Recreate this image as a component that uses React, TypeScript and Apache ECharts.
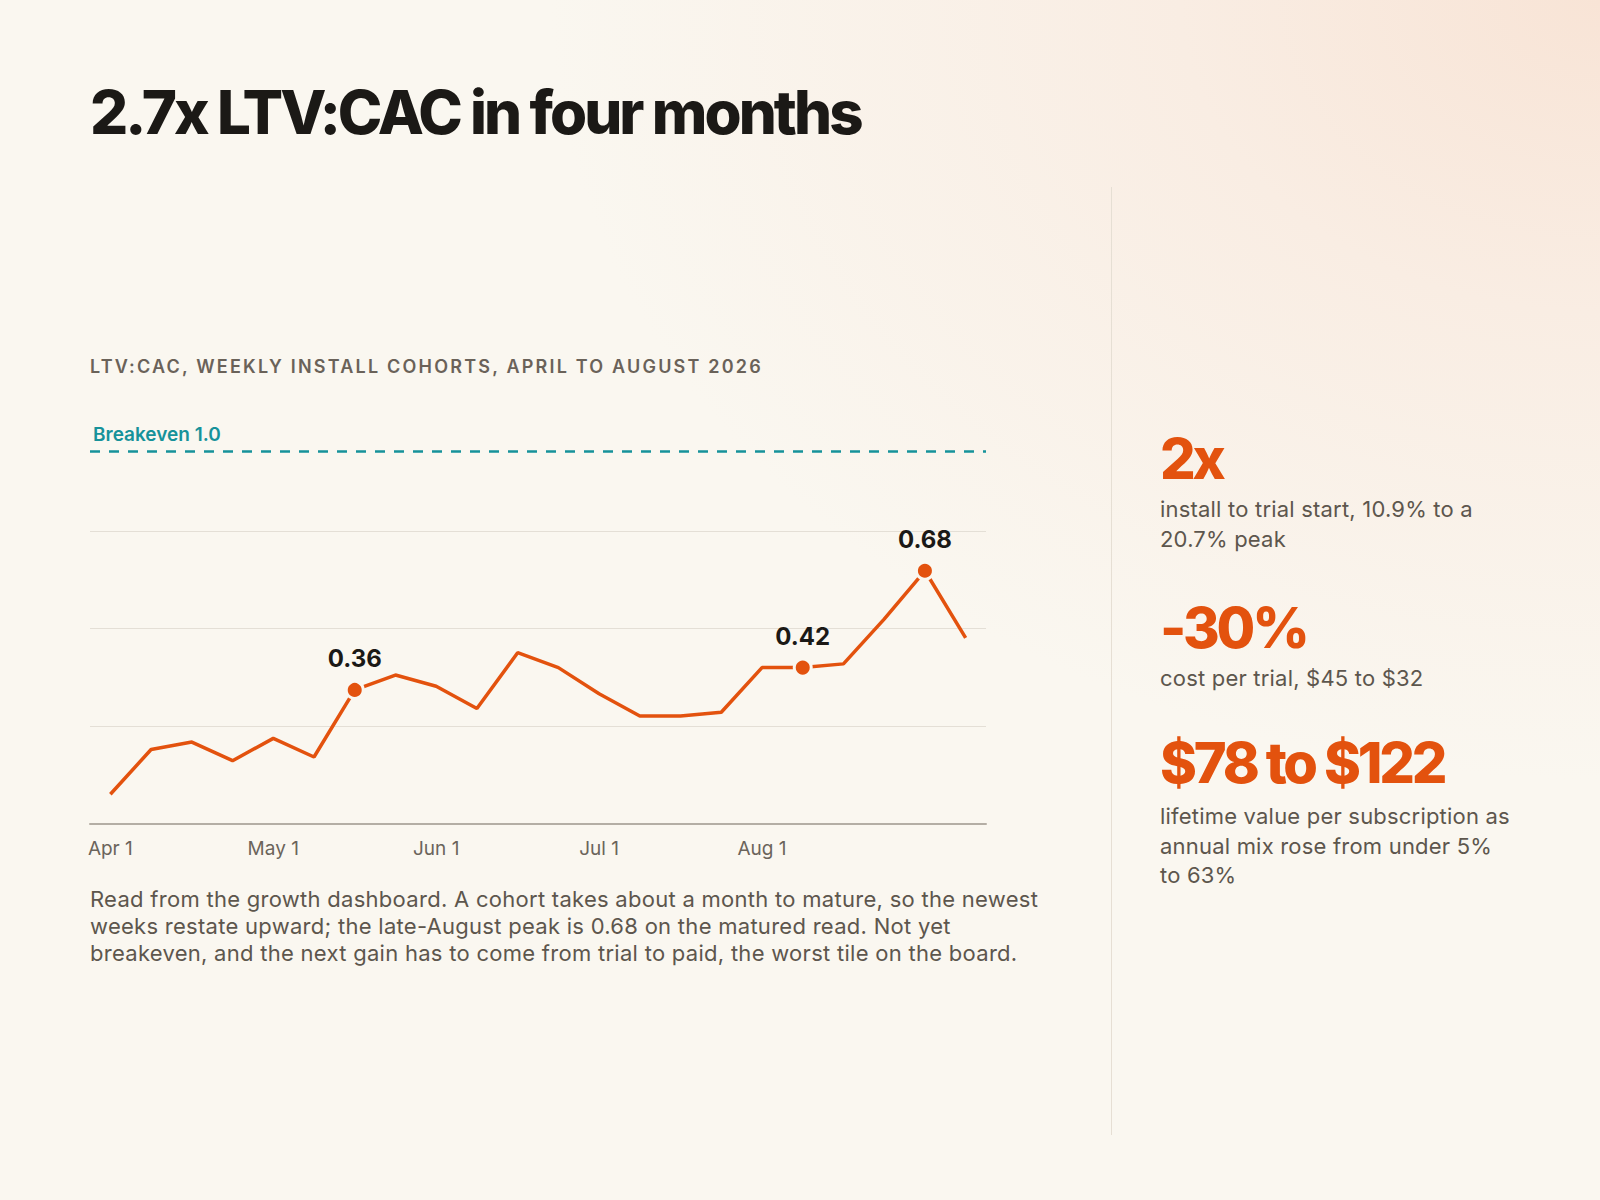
import { useEffect, useRef } from 'react';
import * as echarts from 'echarts';

// Weekly install cohorts; only the month starts get a tick label
const weeks = [
  'Apr 1', 'Apr 8', 'Apr 15', 'Apr 22',
  'May 1', 'May 8', 'May 15', 'May 22',
  'Jun 1', 'Jun 8', 'Jun 15', 'Jun 22',
  'Jul 1', 'Jul 8', 'Jul 15', 'Jul 22',
  'Aug 1', 'Aug 8', 'Aug 15', 'Aug 22', 'Aug 29', 'Sep 5',
];

const ltvCac = [
  0.08, 0.2, 0.22, 0.17, 0.23, 0.18, 0.36, 0.4, 0.37, 0.31, 0.46,
  0.42, 0.35, 0.29, 0.29, 0.3, 0.42, 0.42, 0.43, 0.55, 0.68, 0.5,
];

// weeks that get a dot and a value label
const callouts = [6, 17, 20];

const breakeven = 1.0;

const stats = ['2x', '-30%', '$78 to $122'];
const statNotes = [
  ['install to trial start, 10.9% to a', '20.7% peak'],
  ['cost per trial, $45 to $32'],
  ['lifetime value per subscription as', 'annual mix rose from under 5%', 'to 63%'],
];

const noteLines = [
  'Read from the growth dashboard. A cohort takes about a month to mature, so the newest',
  'weeks restate upward; the late-August peak is 0.68 on the matured read. Not yet',
  'breakeven, and the next gain has to come from trial to paid, the worst tile on the board.',
];

const FONT = "Inter, 'Noto Sans', sans-serif";
const ORANGE = '#e3520e';
const TEAL = '#16929a';
const INK = '#1b1916';
const MUTED = '#5d564d';
const BG = '#faf7f0';

function LtvCacChart() {
  const chartRef = useRef<HTMLDivElement>(null);

  useEffect(() => {
    if (!chartRef.current) return;
    const chart = echarts.init(chartRef.current, undefined, { renderer: 'svg' });

    chart.setOption({
      animation: false,
      backgroundColor: 'transparent',
      textStyle: { fontFamily: FONT },
      // leave a little room on the left so "Apr 1" is not clipped
      grid: { left: 12, right: 4, top: 33, bottom: 46, outerBoundsMode: 'none' },
      xAxis: {
        type: 'category',
        data: weeks,
        boundaryGap: true,
        axisLine: { lineStyle: { color: '#b4aea5', width: 2 } },
        axisTick: { show: false },
        axisLabel: {
          interval: (_: number, v: string) => v.endsWith(' 1'),
          color: '#6b645b',
          fontSize: 19,
          margin: 15,
        },
        splitLine: { show: false },
      },
      yAxis: {
        type: 'value',
        min: 0,
        max: 1.05,
        interval: 0.2625,
        axisLine: { show: false },
        axisTick: { show: false },
        axisLabel: { show: false },
        splitLine: {
          show: true,
          showMaxLine: false,
          lineStyle: { color: '#e4dfd6', width: 1 },
        },
      },
      series: [
        {
          type: 'line',
          data: ltvCac.map((v, i) =>
            callouts.includes(i)
              ? { value: v, symbolSize: 17, label: { show: true } }
              : v
          ),
          symbol: 'circle',
          symbolSize: 0,
          showSymbol: true,
          showAllSymbol: true,
          lineStyle: { color: ORANGE, width: 3.5 },
          itemStyle: { color: ORANGE, borderColor: BG, borderWidth: 3 },
          label: {
            show: false,
            position: 'top',
            distance: 9,
            fontSize: 24,
            fontWeight: 700,
            color: INK,
            formatter: (p: any) => Number(p.value).toFixed(2),
          },
          emphasis: { disabled: true },
          markLine: {
            silent: true,
            symbol: ['none', 'none'],
            data: [{ yAxis: breakeven }],
            lineStyle: { color: TEAL, type: [10, 9], width: 2.5 },
            label: {
              position: 'insideStartTop',
              formatter: `Breakeven ${breakeven.toFixed(1)}`,
              color: TEAL,
              fontSize: 19,
              fontWeight: 600,
              distance: [3, 8],
            },
          },
        },
      ],
    });

    return () => chart.dispose();
  }, []);

  return (
    <div
      ref={chartRef}
      style={{ position: 'absolute', left: 78, top: 400, width: 912, height: 470 }}
    />
  );
}

export default function App() {
  const statTops = [431, 600, 735];
  const noteTops = [495, 664, 802];

  return (
    <div
      style={{
        position: 'absolute',
        left: 0,
        top: 0,
        width: 1600,
        height: 1200,
        overflow: 'hidden',
        fontFamily: FONT,
        background: `radial-gradient(ellipse 1050px 780px at 100% 0%, #f8e4d6 0%, #f9ede3 40%, ${BG} 100%)`,
        backgroundColor: BG,
      }}
    >
      <div
        style={{
          position: 'absolute',
          left: 90,
          top: 82,
          fontSize: 60,
          lineHeight: '60px',
          fontWeight: 800,
          letterSpacing: '-2.95px',
          color: INK,
          whiteSpace: 'nowrap',
        }}
      >
        2.7x LTV:CAC in four months
      </div>

      <div
        style={{
          position: 'absolute',
          left: 90,
          top: 357,
          fontSize: 18,
          lineHeight: '20px',
          fontWeight: 600,
          letterSpacing: '2.2px',
          color: '#6a6259',
          whiteSpace: 'nowrap',
        }}
      >
        LTV:CAC, WEEKLY INSTALL COHORTS, APRIL TO AUGUST 2026
      </div>

      <LtvCacChart />

      <div
        style={{
          position: 'absolute',
          left: 90,
          top: 886,
          fontSize: 22,
          lineHeight: '27px',
          letterSpacing: '0.28px',
          color: MUTED,
          whiteSpace: 'nowrap',
        }}
      >
        {noteLines.map((l) => (
          <div key={l}>{l}</div>
        ))}
      </div>

      <div
        style={{
          position: 'absolute',
          left: 1111,
          top: 187,
          width: 1,
          height: 948,
          background: '#e6dfd4',
        }}
      />

      {stats.map((s, i) => (
        <div key={s}>
          <div
            style={{
              position: 'absolute',
              left: 1160,
              top: statTops[i],
              fontSize: 56,
              lineHeight: '56px',
              fontWeight: 800,
              letterSpacing: '-3.2px',
              color: ORANGE,
              whiteSpace: 'nowrap',
            }}
          >
            {s}
          </div>
          <div
            style={{
              position: 'absolute',
              left: 1160,
              top: noteTops[i],
              fontSize: 22,
              lineHeight: '29.5px',
              letterSpacing: '0.2px',
              color: MUTED,
              whiteSpace: 'nowrap',
            }}
          >
            {statNotes[i].map((l) => (
              <div key={l}>{l}</div>
            ))}
          </div>
        </div>
      ))}
    </div>
  );
}
